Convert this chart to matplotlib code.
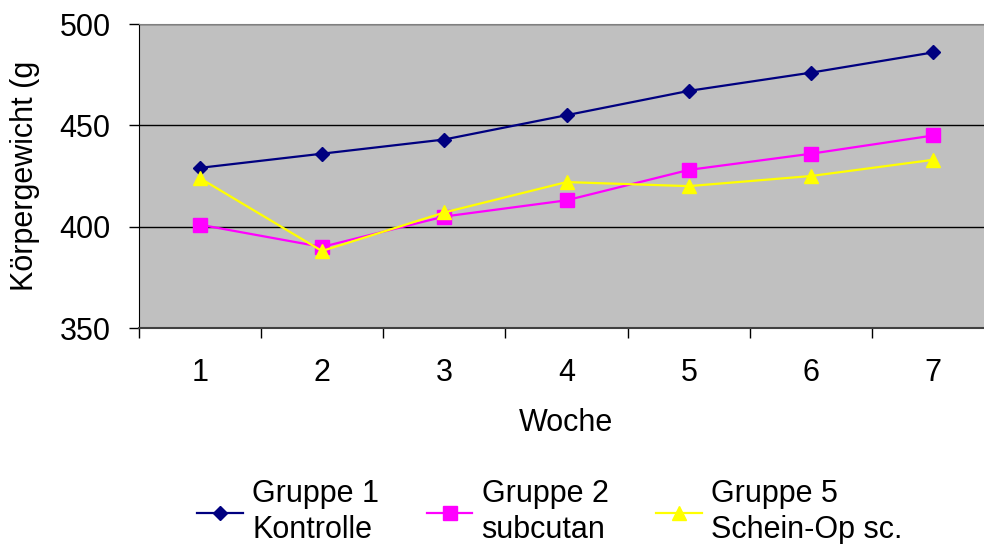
import matplotlib.pyplot as plt
from matplotlib.ticker import FixedLocator

plt.rcParams['font.family'] = ['Liberation Sans', 'DejaVu Sans']

wochen = [1, 2, 3, 4, 5, 6, 7]
gruppe1 = [429, 436, 443, 455, 467, 476, 486]
gruppe2 = [401, 390, 405, 413, 428, 436, 445]
gruppe5 = [424, 388, 407, 422, 420, 425, 433]
labels = ['Gruppe 1\nKontrolle', 'Gruppe 2\nsubcutan', 'Gruppe 5\nSchein-Op sc.']

fig = plt.figure(figsize=(9.84, 5.44), dpi=100)
# plot area runs past the right edge, like the original screenshot
ax = fig.add_axes([138.5 / 984, 1 - 328 / 544, 856 / 984, 304 / 544])
ax.set_facecolor('#c0c0c0')

ax.plot(wochen, gruppe1, color='#000080', marker='D', markersize=7, lw=1.6, label=labels[0])
ax.plot(wochen, gruppe2, color='#ff00ff', marker='s', markersize=10, lw=1.6, label=labels[1])
ax.plot(wochen, gruppe5, color='#ffff00', marker='^', markersize=10, lw=1.6, label=labels[2])

ax.set_xlim(0.5, 7.5)
ax.set_ylim(350, 500)
ax.set_yticks([350, 400, 450, 500])
ax.yaxis.grid(True, color='black', lw=1)
ax.set_axisbelow(True)

ax.xaxis.set_major_locator(FixedLocator([i + 0.5 for i in range(0, 8)]))
ax.xaxis.set_minor_locator(FixedLocator(wochen))
ax.set_xticklabels([])
ax.set_xticklabels([str(w) for w in wochen], minor=True)
ax.tick_params(axis='x', which='major', length=7, width=1, direction='out')
ax.tick_params(axis='x', which='minor', length=0, pad=21.5, labelsize=22)
ax.tick_params(axis='y', length=7, width=1, direction='out', labelsize=22, pad=13)

ax.spines['top'].set_color('#808080')
ax.spines['right'].set_visible(False)
ax.spines['left'].set_color('black')
ax.spines['bottom'].set_color('#404040')
ax.spines['bottom'].set_linewidth(1.5)

ax.set_xlabel('Woche', fontsize=22)
ax.xaxis.set_label_coords(0.499, -0.263)
ax.set_ylabel('Körpergewicht (g', fontsize=22)
ax.yaxis.set_label_coords(-0.115, 0.5)

leg = fig.legend(loc='center left', bbox_to_anchor=(182 / 984, 1 - 512 / 544), ncol=3,
                 frameon=False, fontsize=22, handlelength=1.5, handletextpad=0.3,
                 columnspacing=1.55, borderpad=0)
for t in leg.get_texts():
    t.set_linespacing(1.3)

fig.savefig('out.png', dpi=100)
